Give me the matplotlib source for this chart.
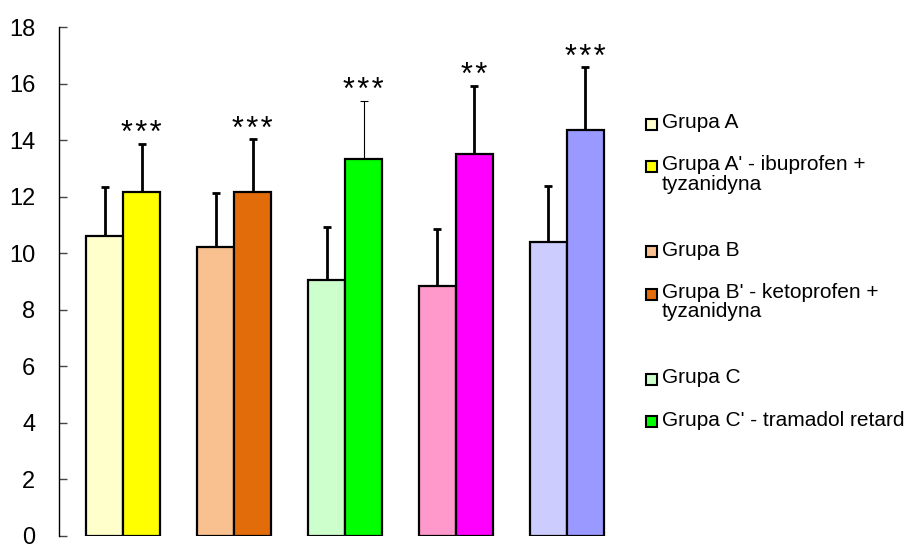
import numpy as np
import matplotlib
matplotlib.use("Agg")
import matplotlib.pyplot as plt
from matplotlib.patches import Rectangle

plt.rcParams['font.family'] = ['Liberation Sans', 'DejaVu Sans']

# data
groups = ["A", "B", "C", "D", "E"]
before = [10.62, 10.22, 9.04, 8.85, 10.41]
before_err = [1.71, 1.92, 1.89, 2.01, 1.98]
after = [12.17, 12.17, 13.33, 13.51, 14.37]
after_err = [1.70, 1.87, 2.07, 2.41, 2.22]
stars = ["***", "***", "***", "**", "***"]

before_colors = ["#FFFFCC", "#F9C090", "#CCFFCC", "#FF99CC", "#CCCCFF"]
after_colors = ["#FFFF00", "#E36C0A", "#00FF00", "#FF00FF", "#9999FF"]
after_err_lw = [2.0, 2.0, 0.8, 2.0, 2.0]

legend_labels = ["Grupa A", "Grupa A' - ibuprofen +\ntyzanidyna",
                 "Grupa B", "Grupa B' - ketoprofen +\ntyzanidyna",
                 "Grupa C", "Grupa C' - tramadol retard"]
legend_colors = [before_colors[0], after_colors[0],
                 before_colors[1], after_colors[1],
                 before_colors[2], after_colors[2]]

fig = plt.figure(figsize=(9.07, 5.49), dpi=100)
ax = fig.add_axes([59 / 907, 13 / 549, 581 / 907, 509 / 549])

x = np.arange(len(groups))
w = 1 / 3

ax.bar(x - w / 2, before, w, color=before_colors, edgecolor='black', linewidth=1.6, zorder=2)
ax.bar(x + w / 2, after, w, color=after_colors, edgecolor='black', linewidth=1.6, zorder=2)

ax.errorbar(x - w / 2, before, yerr=[np.zeros(5), before_err], fmt='none',
            ecolor='black', elinewidth=2.0, capsize=3.2, capthick=2.0, zorder=1)
for i in range(len(groups)):
    ax.errorbar(x[i] + w / 2, after[i], yerr=[[0], [after_err[i]]], fmt='none',
                ecolor='black', elinewidth=after_err_lw[i], capsize=3.2,
                capthick=after_err_lw[i], zorder=1)
    ax.text(x[i] + w / 2, after[i] + after_err[i] - 0.2, "\u200a".join(stars[i]),
            ha='center', va='bottom', fontsize=22)

ax.set_xlim(-0.577, 4.658)
ax.set_ylim(0, 18)
ax.set_yticks(np.arange(0, 19, 2))
ax.set_xticks([])
ax.tick_params(axis='y', direction='in', length=6, width=1, pad=17, labelsize=17,
               color='#444444')
for s in ['top', 'right', 'bottom']:
    ax.spines[s].set_visible(False)
ax.spines['left'].set_linewidth(1)

# legend drawn by hand so two-line entries take two slots
slot = 0
for lab, col in zip(legend_labels, legend_colors):
    yc = 1 - (124 + slot * 42.5) / 549
    fig.patches.append(Rectangle((646 / 907, yc - 5.5 / 549), 11 / 907, 11 / 549,
                                 transform=fig.transFigure, facecolor=col,
                                 edgecolor='black', linewidth=1.5))
    fig.text(662 / 907, yc + 11 / 549, lab, fontsize=15, va='top', ha='left',
             linespacing=1.0)
    slot += lab.count("\n") + 1

plt.savefig("out.png", dpi=100)
